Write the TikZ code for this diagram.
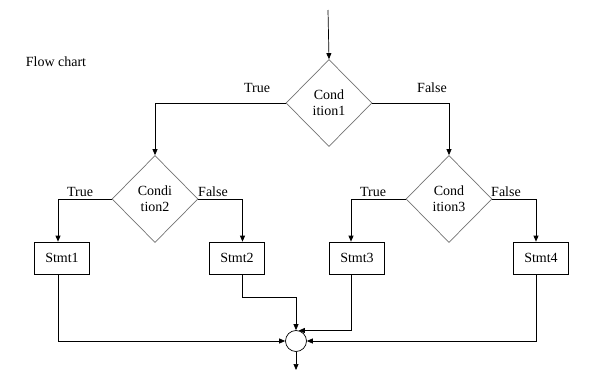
\documentclass[tikz,border=0pt]{standalone}
\usepackage{fontspec}
\setmainfont{Liberation Serif}
\usetikzlibrary{shapes.geometric,arrows.meta}

\begin{document}
\begin{tikzpicture}[x=1pt, y=-1pt, line width=0.7pt, >={Triangle[length=6pt,width=5pt]},
    every node/.style={align=center, font=\fontsize{14}{16}\selectfont},
    cond/.style={draw=black!55, diamond, inner sep=0pt, minimum width=86pt, minimum height=87pt},
    stmt/.style={draw, minimum width=55pt, minimum height=32pt, inner sep=0pt},
    joint/.style={draw, circle, minimum size=21pt, inner sep=0pt}]
    \useasboundingbox (0,0) rectangle (600,386);

    \node (title) at (56,62) {Flow chart};

    \coordinate (start) at (328,10);
    \node[cond] (cond1) at (329,103) {Cond\\ition1};
    \node[cond] (cond2) at (155,199) {Condi\\tion2};
    \node[cond] (cond3) at (449,199) {Cond\\ition3};

    \node[stmt] (stmt1) at (62,258) {Stmt1};
    \node[stmt] (stmt2) at (237,258) {Stmt2};
    \node[stmt] (stmt3) at (357,258) {Stmt3};
    \node[stmt] (stmt4) at (541,258) {Stmt4};

    \node[joint] (join) at (296,341) {};
    \coordinate (stop) at (296,370);

    % branch labels
    \node (true1) at (257,88) {True};
    \node (false1) at (432,88) {False};
    \node (true2) at (80,192) {True};
    \node (false2) at (213,192) {False};
    \node (true3) at (373,192) {True};
    \node (false3) at (506,192) {False};

    \draw[->] (start) -- (cond1.north);
    \draw[->] (cond1.west) -| (cond2.north);
    \draw[->] (cond1.east) -| (cond3.north);

    \draw[->] (cond2.west) -| ([xshift=-4pt]stmt1.north);
    \draw[->] (cond2.east) -| ([xshift=5.5pt]stmt2.north);
    \draw[->] (cond3.west) -| ([xshift=-6pt]stmt3.north);
    \draw[->] (cond3.east) -| ([xshift=-5pt]stmt4.north);

    \draw[->] ([xshift=-4pt]stmt1.south) |- (join.west);
    \draw[->] ([xshift=5.5pt]stmt2.south) -- ++(0,23) -| (join.north);
    \draw[->] ([xshift=-6pt]stmt3.south) |- (join.75);
    \draw[->] ([xshift=-5pt]stmt4.south) |- (join.east);
    \draw[->] (join.south) -- (stop);
\end{tikzpicture}
\end{document}
